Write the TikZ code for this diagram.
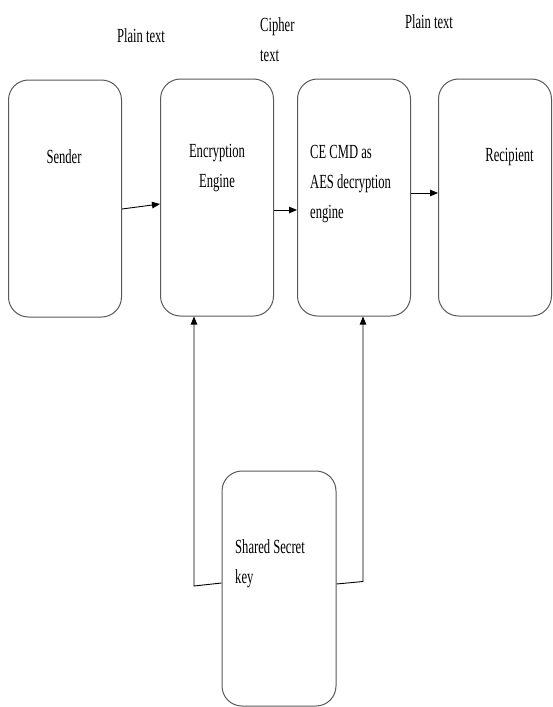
\documentclass[tikz,border=0pt]{standalone}
\usepackage{fontspec}
\setmainfont[FakeStretch=0.63]{Liberation Serif}
\usetikzlibrary{arrows.meta}
\tikzset{
  block/.style={draw=black!65, line width=1pt, rounded corners=20pt,
    minimum width=113pt, minimum height=237pt, inner sep=0pt},
  lbl/.style={inner sep=0pt, font=\fontsize{20}{30}\selectfont},
  arr/.style={draw=black, line width=0.9pt, -{Triangle[length=8pt,width=6.5pt]}}
}
\begin{document}
\begin{tikzpicture}[x=1pt,y=-1pt]
\useasboundingbox (0,0) rectangle (552,707);

% blocks
\node[block] (sender) at (65,198.5) {};
\node[block] (enc) at (217,197.5) {};
\node[block] (ce) at (354,197.5) {};
\node[block] (rec) at (495,197.5) {};
\node[block, minimum width=114pt, minimum height=235pt] (key) at (279,588.5) {};

% texts inside the blocks
\node[lbl] (sendertxt) at (64,157) {Sender};
\node[lbl, align=center] (enctxt) at (217,168) {Encryption\\Engine};
\node[lbl, align=left, anchor=west] (cetxt) at (310,184.5) {CE CMD as\\AES decryption\\engine};
\node[lbl] (rectxt) at (509.5,157) {Recipient};
\node[lbl, align=left, anchor=west] (keytxt) at (235,564) {Shared Secret\\key};

% flow labels
\node[lbl] (plain1) at (141,36) {Plain text};
\node[lbl, align=left, anchor=west] (cipher) at (260,40) {Cipher\\text};
\node[lbl] (plain2) at (429,22) {Plain text};

% data flow
\draw[arr] ([yshift=-10.5pt]sender.east) -- ([yshift=-6.5pt]enc.west);
\draw[arr] ([yshift=-12.5pt]enc.east) -- ([yshift=-12.5pt]ce.west);
\draw[arr] ([yshift=4.5pt]ce.east) -- ([yshift=4.5pt]rec.west);

% key distribution
\coordinate (kl) at (194,586);
\coordinate (kr) at (363,581.5);
\draw[arr] ([yshift=5.5pt]key.west) -- (kl) -- (kl |- enc.south);
\draw[arr] ([yshift=4.5pt]key.east) -- (kr) -- (kr |- ce.south);
\end{tikzpicture}
\end{document}
